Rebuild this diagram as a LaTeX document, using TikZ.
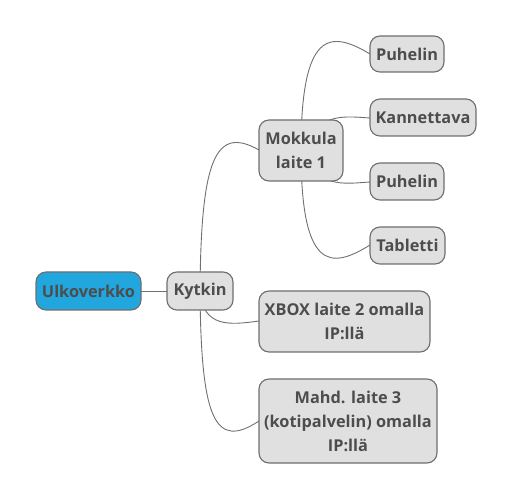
\documentclass[tikz,border=0pt]{standalone}
\usepackage{fontspec}
\setmainfont{Open Sans}
\definecolor{nodefill}{HTML}{E0E0E0}
\definecolor{nodeborder}{HTML}{6E6E6E}
\definecolor{nodetext}{HTML}{4D4D4D}
\definecolor{rootblue}{HTML}{21A6DE}
\definecolor{linkgray}{HTML}{707070}
\begin{document}
\begin{tikzpicture}[x=1pt,y=-1pt,
  topic/.style={draw=nodeborder, line width=1.1pt, fill=nodefill, rounded corners=10pt,
    text=nodetext, font=\fontsize{16.3}{24}\selectfont\bfseries, align=center, inner sep=0pt},
  rootnode/.style={topic, fill=rootblue},
  link/.style={draw=linkgray, line width=0.9pt}]
\useasboundingbox (0,0) rectangle (514,502);
% node positions (used for connectors)
\coordinate (ulkoC) at (88.5,291);
\coordinate (kytC) at (200,291);
\coordinate (mokC) at (301,150.5);
% connectors
\draw[link] (ulkoC) -- (kytC);
\draw[link] (kytC) .. controls (201,160) and (215,125) .. (259,150);
\draw[link] (kytC) .. controls (203,328) and (230,325) .. (259,321);
\draw[link] (kytC) .. controls (201,420) and (215,450) .. (259,421);
\draw[link] (mokC) .. controls (301,30) and (330,30) .. (370,54);
\draw[link] (mokC) .. controls (320,113) and (340,116) .. (370,118);
\draw[link] (mokC) .. controls (320,188) and (340,184) .. (370,182);
\draw[link] (mokC) .. controls (301,270) and (330,270) .. (370,245);
% nodes
\node[rootnode, minimum width=105pt, minimum height=38pt] (ulko) at (ulkoC) {Ulkoverkko};
\node[topic, minimum width=66pt, minimum height=38pt] (kyt) at (kytC) {Kytkin};
\node[topic, minimum width=84pt, minimum height=61pt] (mok) at (mokC) {Mokkula\\laite 1};
\node[topic, minimum width=74pt, minimum height=36pt] (puh1) at (407,54) {Puhelin};
\node[topic, minimum width=106pt, minimum height=37pt] (kan) at (423,117.5) {Kannettava};
\node[topic, minimum width=74pt, minimum height=37pt] (puh2) at (407,181.5) {Puhelin};
\node[topic, minimum width=75pt, minimum height=37pt] (tab) at (407.5,245.5) {Tabletti};
\node[topic, minimum width=171pt, minimum height=61pt] (xbox) at (344.5,321.5) {XBOX laite 2 omalla\\IP:llä};
\node[topic, minimum width=178pt, minimum height=84pt] (mahd) at (348,421) {Mahd. laite 3\\(kotipalvelin) omalla\\IP:llä};
\end{tikzpicture}
\end{document}
